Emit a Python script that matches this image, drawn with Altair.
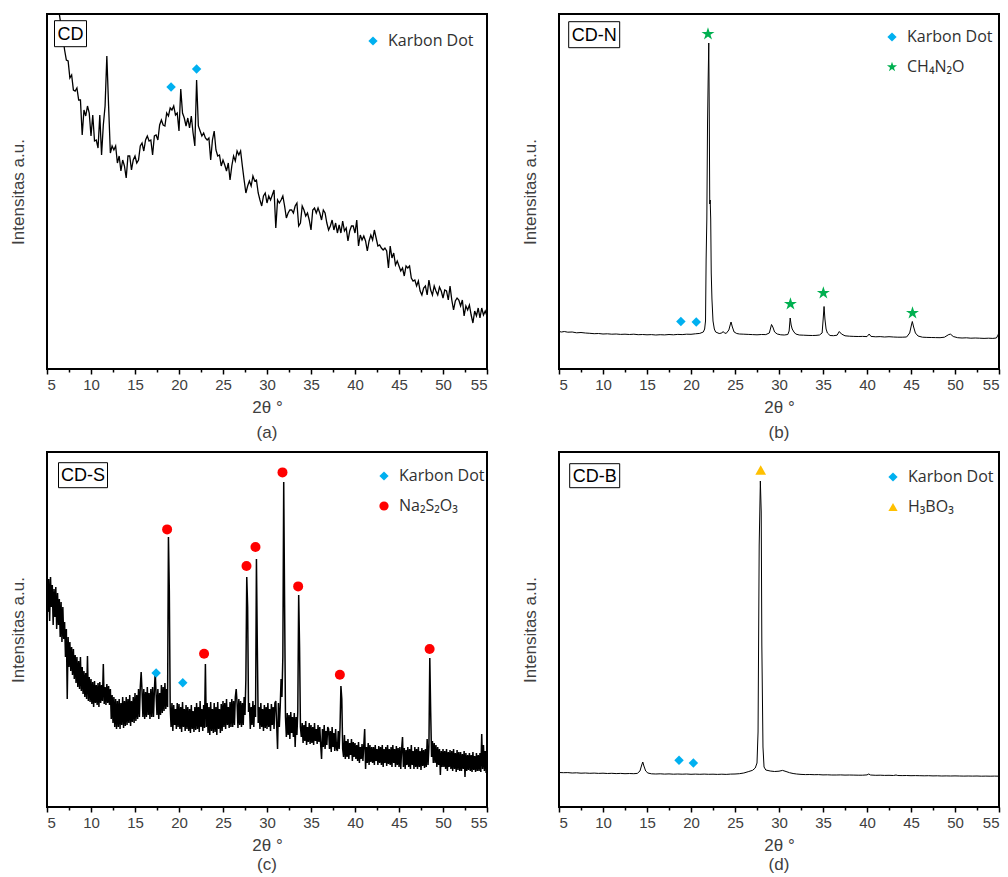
import altair as alt
import numpy as np
import pandas as pd

# ---------------- data ----------------
# panel (a) CD : intensity (a.u.) sampled every 0.2 deg from 6.4 to 55.0
A_START, A_END = 6.4, 55.0
A_Y = [
    355, 343, 333,
    319, 309, 308, 291, 294,      # 7
    279, 278, 281, 269, 269,      # 8
    234, 259, 253, 263, 256,      # 9
    233, 254, 228, 229, 221,      # 10
    254, 214, 244, 263, 313,      # 11
    263, 216, 223, 219, 223,      # 12
    206, 213, 198, 209, 203,      # 13
    191, 213, 213, 199, 209,      # 14
    213, 206, 209, 223, 226,      # 15
    218, 229, 233, 228, 229,      # 16
    214, 233, 234, 229, 244,      # 17
    249, 244, 243, 256, 253,      # 18
    261, 259, 263, 254, 256,      # 19
    238, 280, 256, 251, 243,      # 20
    251, 241, 253, 236, 223,      # 21
    289, 243, 238, 233, 236,      # 22
    231, 229, 231, 209, 229,      # 23
    238, 219, 213, 214, 203,      # 24
    209, 204, 198, 206, 189,      # 25
    203, 213, 208, 218, 214,      # 26
    218, 203, 189, 176, 183,      # 27
    188, 183, 193, 188, 189,      # 28
    176, 169, 163, 173, 176,      # 29
    166, 173, 169, 174, 179,      # 30
    141, 169, 166, 169, 173,      # 31
    163, 151, 156, 159, 159,      # 32
    156, 163, 166, 143, 146,      # 33
    163, 159, 153, 156, 149,      # 34
    139, 159, 161, 156, 161,      # 35
    156, 149, 159, 156, 146,      # 36
    139, 143, 149, 139, 146,      # 37
    136, 144, 136, 148, 138,      # 38
    141, 128, 138, 143, 143,      # 39
    136, 149, 123, 134, 129,      # 40
    133, 128, 118, 128, 134,      # 41
    129, 139, 131, 123, 124,      # 42
    121, 119, 121, 118, 101,      # 43
    123, 111, 116, 104, 108,      # 44
    103, 98, 101, 93, 103,        # 45
    101, 103, 91, 88, 89,         # 46
    83, 88, 78, 74, 81,           # 47
    83, 74, 89, 79, 74,           # 48
    83, 78, 74, 82, 78,           # 49
    71, 79, 78, 69, 83,           # 50
    69, 59, 68, 71, 69,           # 51
    63, 69, 53, 63, 59,           # 52
    64, 54, 46, 58, 53,           # 53
    61, 51, 61, 54, 58,           # 54
    53,
]

# panel (b) CD-N : (2theta, intensity) pairs
B_X = [5.0, 5.3, 5.6, 6.0, 6.5, 7.0, 7.5, 8.0, 8.5, 9.0, 9.5, 10, 10.5, 11, 11.5, 12, 12.5, 13,
       13.5, 14, 14.5, 15, 15.5, 16, 16.5, 17, 17.5, 18, 18.5, 19, 19.5, 20, 20.5, 21, 21.4,
       21.55, 21.65, 21.72, 21.8, 21.88, 21.95, 22.02, 22.08, 22.13, 22.18, 22.24, 22.3, 22.38,
       22.5, 22.65, 22.8, 23.2, 23.5, 23.65, 23.8, 24.0, 24.3, 24.45, 24.55, 24.7, 24.9, 25.2,
       25.5, 26, 26.5, 27, 27.5, 28, 28.5, 28.9, 29.05, 29.15, 29.3, 29.5, 29.8, 30.2, 30.6,
       31.0, 31.15, 31.27, 31.38, 31.5, 31.7, 31.9, 32.3, 32.8, 33.3, 33.8, 34.2, 34.6, 34.9,
       35.02, 35.12, 35.22, 35.35, 35.5, 35.8, 36.2, 36.6, 36.85, 37.1, 37.5, 38, 38.5, 39,
       39.5, 40, 40.25, 40.45, 41, 41.5, 42, 42.5, 43, 43.5, 44, 44.5, 44.85, 45.05, 45.15,
       45.3, 45.5, 45.8, 46.3, 46.8, 47.3, 47.8, 48.3, 48.8, 49.3, 49.5, 49.8, 50.3, 50.8,
       51.3, 51.8, 52.3, 52.8, 53.3, 53.8, 54.3, 54.7, 54.9, 55.0]
B_Y = [37.5, 37, 37.5, 36.8, 37, 36.2, 36.5, 36, 35.7, 35.3, 35.5, 35, 35.2, 34.8, 35, 34.6,
       34.8, 34.5, 34.8, 34.3, 34.5, 34.2, 34.4, 34, 34.3, 34.1, 34.5, 34.2, 34.6, 34.4, 34.8,
       34.7, 35.2, 35.6, 37, 40, 48, 110, 150, 246, 290, 326, 250, 165, 169, 150, 96, 70, 48,
       40, 37, 35.5, 36, 37.5, 36, 35.6, 39, 44, 47, 42, 37, 35.5, 35, 34.8, 34.6, 34.4, 34.2,
       34.5, 34.4, 36, 41, 44.5, 42, 37, 35, 34.2, 34, 34.5, 38, 51, 44, 40, 37, 35, 34, 33.8,
       33.6, 33.5, 33.6, 34, 36, 50, 62.5, 50, 40, 36, 33.5, 33.3, 33.8, 37.5, 35, 33.2, 32.8,
       32.6, 32.5, 32.6, 32.4, 35, 32.6, 32.2, 32.4, 32, 32.3, 32, 31.8, 31.8, 32, 36, 44,
       47.5, 42, 36, 33, 31.8, 31.6, 31.5, 31.4, 31.3, 31.8, 34.5, 34.8, 32.5, 31.3, 31, 31.2,
       30.8, 31, 30.8, 30.6, 30.8, 30.6, 31, 34, 37.5]

# panel (c) CD-S : intensity sampled every 0.1 deg from 5.0 to 55.0
C_START, C_END = 5.0, 55.0
C_Y = [
    234, 195, 228, 186, 230, 200, 222, 182, 218, 190,   # 5
    220, 178, 214, 182, 208, 170, 205, 165, 200, 168,   # 6
    185, 150, 178, 108, 170, 140, 165, 136, 160, 132,   # 7
    158, 128, 152, 124, 150, 120, 146, 118, 150, 116,   # 8
    140, 113, 136, 110, 134, 108, 151, 106, 130, 105,   # 9
    128, 103, 125, 100, 126, 104, 122, 102, 124, 100,   # 10
    125, 104, 122, 106, 143, 103, 120, 102, 123, 104,   # 11
    121, 102, 118, 88, 112, 84, 110, 80, 108, 78,       # 12
    106, 80, 108, 78, 104, 82, 110, 79, 106, 81,        # 13
    110, 82, 108, 84, 112, 81, 106, 85, 110, 84,        # 14
    114, 86, 112, 88, 118, 90, 120, 135, 116, 90,       # 15
    118, 88, 115, 90, 120, 92, 114, 88, 118, 90,        # 16
    120, 90, 116, 135, 112, 92, 118, 88, 114, 92,       # 17
    122, 94, 120, 96, 124, 98, 118, 100, 270, 216,      # 18
    100, 80, 104, 76, 102, 82, 98, 78, 104, 80,         # 19
    103, 78, 100, 75, 105, 80, 98, 76, 102, 78,         # 20
    100, 76, 98, 74, 102, 78, 96, 75, 100, 77,          # 21
    104, 78, 100, 75, 106, 80, 98, 76, 102, 79,         # 22
    143, 80, 104, 74, 100, 72, 105, 76, 98, 74,         # 23
    104, 75, 100, 72, 105, 78, 98, 74, 103, 76,         # 24
    106, 80, 104, 78, 108, 82, 100, 79, 105, 80,        # 25
    108, 80, 106, 82, 110, 118, 104, 79, 108, 82,       # 26
    106, 80, 104, 82, 110, 92, 128, 230, 200, 95,       # 27
    104, 78, 100, 82, 106, 80, 102, 90, 248, 160,       # 28
    84, 100, 78, 104, 80, 98, 76, 102, 79, 100,         # 29
    78, 104, 80, 98, 76, 103, 82, 100, 78, 104,         # 30
    106, 82, 58, 104, 80, 100, 128, 110, 150, 325,      # 31
    202, 90, 70, 94, 72, 92, 68, 95, 74, 90,            # 32
    70, 94, 60, 90, 72, 96, 212, 160, 80, 70,           # 33
    84, 64, 82, 66, 86, 62, 80, 65, 84, 63,             # 34
    82, 64, 80, 62, 84, 66, 78, 63, 82, 65,             # 35
    80, 62, 48, 78, 60, 82, 58, 76, 62, 80,             # 36
    78, 58, 76, 55, 80, 60, 74, 56, 78, 58,             # 37
    56, 76, 58, 80, 121, 108, 58, 50, 72, 48,           # 38
    66, 50, 68, 48, 64, 52, 68, 46, 65, 50,             # 39
    64, 48, 62, 46, 65, 44, 60, 48, 63, 46,             # 40
    62, 78, 38, 60, 44, 64, 42, 62, 45, 60,             # 41
    44, 60, 42, 62, 46, 58, 42, 61, 44, 60,             # 42
    42, 62, 40, 58, 44, 60, 41, 62, 43, 58,             # 43
    42, 60, 40, 62, 44, 58, 40, 61, 42, 59,             # 44
    40, 60, 38, 58, 70, 40, 59, 38, 57, 42,             # 45
    60, 40, 58, 38, 62, 42, 56, 38, 60, 40,             # 46
    58, 38, 60, 40, 56, 37, 59, 41, 57, 39,             # 47
    58, 40, 68, 42, 60, 149, 95, 50, 66, 44,            # 48
    64, 44, 62, 40, 60, 42, 58, 32, 56, 40,             # 49
    58, 40, 56, 38, 58, 36, 55, 40, 57, 38,             # 50
    56, 36, 58, 38, 54, 35, 57, 37, 55, 36,             # 51
    55, 36, 53, 38, 56, 30, 54, 36, 52, 37,             # 52
    54, 36, 52, 35, 55, 37, 51, 35, 54, 36,             # 53
    52, 36, 54, 35, 73, 38, 62, 36, 56, 34,             # 54
    50,
]

# panel (d) CD-B : (2theta, intensity) pairs
D_X = [5.0, 5.5, 6.0, 6.5, 7.0, 7.5, 8.0, 8.5, 9.0, 9.5, 10, 10.5, 11, 11.5, 12, 12.5, 13,
       13.5, 13.9, 14.2, 14.4, 14.52, 14.65, 14.85, 15.1, 15.5, 16, 16.5, 17, 17.5, 18, 18.5,
       19, 19.5, 20, 20.5, 21, 21.5, 22, 22.5, 23, 23.5, 24, 24.5, 25, 25.5, 26, 26.5, 27.0,
       27.3, 27.5, 27.62, 27.75, 27.88, 27.98, 28.05, 28.18, 28.3, 28.5, 29, 29.5, 30, 30.4,
       30.8, 31.2, 31.6, 32, 32.5, 33, 33.5, 34, 34.5, 35, 35.5, 36, 36.5, 37, 37.5, 38, 38.5,
       39, 39.5, 40.0, 40.2, 40.4, 41, 41.5, 42, 42.5, 43, 43.3, 43.5, 44, 44.5, 45, 45.5, 46,
       46.5, 47, 47.5, 48, 48.5, 49, 49.5, 50, 50.5, 51, 51.5, 52, 52.5, 53, 53.5, 54, 54.5, 55]
D_Y = [34.5, 34.3, 34.4, 34, 34.2, 33.8, 34, 33.7, 33.9, 33.6, 33.8, 33.5, 33.7, 33.4, 33.6,
       33.3, 33.5, 33.3, 33.6, 36, 42, 45, 41, 36, 34, 33.2, 33, 33.2, 32.9, 33.1, 32.8, 33,
       32.8, 33, 32.7, 32.9, 32.7, 32.9, 32.7, 32.8, 32.6, 32.8, 32.6, 32.9, 33, 33.3, 34,
       35.3, 36.7, 39, 44, 75, 262, 326, 295, 162, 60, 40, 37, 36, 35.5, 35.8, 36.6, 35.5,
       34.3, 33.5, 33, 32.6, 32.4, 32.5, 32.3, 32.4, 32.1, 32.2, 32, 32, 32.1, 31.9, 32, 31.9,
       31.8, 31.8, 32.1, 33, 32, 31.7, 31.8, 31.6, 31.7, 31.5, 32, 31.5, 31.4, 31.5, 31.3,
       31.4, 31.3, 31.2, 31.3, 31.1, 31.2, 31, 31.1, 31, 31.1, 31, 30.9, 31, 30.9, 31, 30.8,
       30.9, 30.8, 30.9, 30.8]

# peak markers (2theta, intensity, phase)
A_MK_X = [19.1, 22.0]
A_MK_Y = [282, 300]
A_MK_P = ["Karbon Dot", "Karbon Dot"]
B_MK_X = [18.85, 20.6, 21.93, 31.3, 35.04, 45.17]
B_MK_Y = [47.5, 47, 335, 65, 76, 56]
B_MK_P = ["Karbon Dot", "Karbon Dot", "CH₄N₂O", "CH₄N₂O", "CH₄N₂O", "CH₄N₂O"]
C_MK_X = [17.4, 20.43, 18.65, 22.85, 27.67, 28.69, 31.76, 33.54, 38.28, 48.48]
C_MK_Y = [134, 124.3, 277.6, 153.3, 241, 260, 334.6, 220.6, 132.3, 158]
C_MK_P = ["Karbon Dot", "Karbon Dot"] + ["Na₂S₂O₃"] * 8
D_MK_X = [18.64, 20.27, 27.92]
D_MK_Y = [46.7, 44, 337]
D_MK_P = ["Karbon Dot", "Karbon Dot", "H₃BO₃"]

PANEL_LABELS = ["CD", "CD-N", "CD-S", "CD-B"]
CAPTIONS = ["(a)", "(b)", "(c)", "(d)"]
X_MAJOR = [5, 10, 15, 20, 25, 30, 35, 40, 45, 50, 55]
X_MINOR = [7.5, 12.5, 17.5, 22.5, 27.5, 32.5, 37.5, 42.5, 47.5, 52.5]

# ---------------- styling ----------------
W, H = 440, 355
TXT = "#404040"
STAR = ("M0,-1.15L0.258,-0.355L1.094,-0.355L0.418,0.136L0.676,0.93L0,0.439"
        "L-0.676,0.93L-0.418,0.136L-1.094,-0.355L-0.258,-0.355Z")
STYLE = {
    "Karbon Dot": ("#00B0F0", "diamond", 90),
    "CH₄N₂O": ("#00B050", STAR, 141),
    "Na₂S₂O₃": ("#FF0000", "circle", 100),
    "H₃BO₃": ("#FFC000", "triangle-up", 115),
}

x_axis = alt.Axis(
    values=sorted(X_MAJOR + X_MINOR), title="2θ °", grid=False, domain=False,
    labelExpr="datum.value % 5 === 0 ? datum.label : ''",
    tickSize={"condition": {"test": "datum.value % 5 === 0", "value": 5}, "value": 3},
    tickColor="black", tickWidth=1.5, labelFont="Liberation Sans", labelFontSize=15,
    labelColor=TXT, labelPadding=3, titleFont="Liberation Sans", titleFontSize=17,
    titleFontWeight="normal", titleColor=TXT, titlePadding=7,
)
y_axis = alt.Axis(
    title="Intensitas a.u.", labels=False, ticks=False, domain=False, grid=False,
    titleFont="Liberation Sans", titleFontSize=17, titleFontWeight="normal",
    titleColor=TXT, titlePadding=20,
)
xs = alt.Scale(domain=[5, 55], nice=False, zero=False)
ys = alt.Scale(domain=[0, 355], nice=False, zero=False)


def panel(lx, ly, mx, my, mp, label, caption, box, legxy, stroke, cap_off):
    line_df = pd.DataFrame({"x": lx, "y": ly})
    mk_df = pd.DataFrame({"x": mx, "y": my, "phase": mp})
    phases = list(dict.fromkeys(mp))
    cscale = alt.Scale(domain=phases, range=[STYLE[p][0] for p in phases])
    sscale = alt.Scale(domain=phases, range=[STYLE[p][1] for p in phases])
    leg = alt.Legend(
        orient="none", legendX=legxy[0], legendY=legxy[1], title=None, padding=0,
        labelFont="Open Sans", labelFontSize=16, labelColor="#303030", labelOffset=7,
        rowPadding=14, symbolSize=85, symbolStrokeWidth=0, symbolOpacity=1,
    )
    layers = [
        alt.Chart(line_df).mark_line(color="black", strokeWidth=stroke, clip=True).encode(
            x=alt.X("x:Q", scale=xs, axis=x_axis), y=alt.Y("y:Q", scale=ys, axis=y_axis)
        )
    ]
    for p in phases:
        layers.append(
            alt.Chart(mk_df[mk_df.phase == p]).mark_point(
                filled=True, opacity=1, strokeWidth=0, size=STYLE[p][2]
            ).encode(
                x=alt.X("x:Q", scale=xs, axis=x_axis),
                y=alt.Y("y:Q", scale=ys, axis=y_axis),
                color=alt.Color("phase:N", scale=cscale, legend=leg),
                shape=alt.Shape("phase:N", scale=sscale, legend=leg),
            )
        )
    lab_df = pd.DataFrame({"label": [label]})
    layers.append(
        alt.Chart(lab_df).mark_rect(fill="white", stroke="black", strokeWidth=1).encode(
            x=alt.value(box[0]), x2=alt.value(box[1]), y=alt.value(box[2]), y2=alt.value(box[3])
        )
    )
    layers.append(
        alt.Chart(lab_df).mark_text(
            font="Liberation Sans", fontSize=18, color="black", align="center", baseline="middle"
        ).encode(
            text="label:N", x=alt.value((box[0] + box[1]) / 2), y=alt.value((box[2] + box[3]) / 2 + 1)
        )
    )
    return alt.layer(*layers).properties(
        width=W, height=H,
        title=alt.TitleParams(caption, orient="bottom", font="Liberation Sans", fontSize=17,
                              fontWeight="normal", color=TXT, offset=cap_off),
    )


A_X = np.round(np.linspace(A_START, A_END, len(A_Y)), 2)
C_X = np.round(np.linspace(C_START, C_END, len(C_Y)), 2)

pa = panel(A_X, A_Y, A_MK_X, A_MK_Y, A_MK_P, PANEL_LABELS[0], CAPTIONS[0],
           (7.5, 39.5, 6.7, 32.7), (318, 19), 1.3, 10)
pb = panel(B_X, B_Y, B_MK_X, B_MK_Y, B_MK_P, PANEL_LABELS[1], CAPTIONS[1],
           (9.7, 60.7, 7.7, 33.7), (325, 15), 1.0, 10)
pc = panel(C_X, C_Y, C_MK_X, C_MK_Y, C_MK_P, PANEL_LABELS[2], CAPTIONS[2],
           (11.5, 60.5, 10.7, 35.7), (329, 16), 1.5, 4)
pd_ = panel(D_X, D_Y, D_MK_X, D_MK_Y, D_MK_P, PANEL_LABELS[3], CAPTIONS[3],
            (10.7, 60.7, 11.7, 35.7), (326, 17), 1.0, 4)

chart = (
    alt.concat(pa, pb, pc, pd_, columns=2, spacing={"row": 9, "column": 31})
    .resolve_scale(color="independent", shape="independent")
    .configure_view(stroke="black", strokeWidth=2)
    .properties(padding={"left": 8, "top": 13, "right": 4, "bottom": 2}, background="white")
)

chart.save("out.html", embed_options={"renderer": "svg", "actions": False})
